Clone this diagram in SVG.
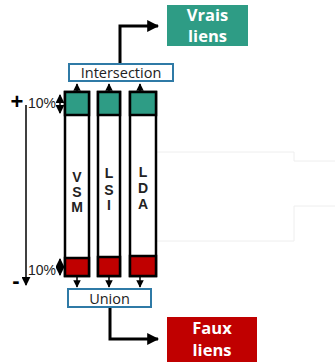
<svg xmlns="http://www.w3.org/2000/svg" width="335" height="362" viewBox="0 0 335 362">
<defs>
<style>
.col{fill:#fff;stroke:#000;stroke-width:2.5}
.top{fill:#2e9c85;stroke:#000;stroke-width:2.5}
.bot{fill:#c00000;stroke:#000;stroke-width:2.5}
.op{fill:#fff;stroke:#2f7aa6;stroke-width:2}
.lbl{font-family:"Open Sans","Liberation Sans",sans-serif;font-size:14.5px;fill:#222;text-anchor:middle}
.res{font-family:"Open Sans","Liberation Sans",sans-serif;font-size:16.5px;font-weight:bold;fill:#fff;text-anchor:middle}
.let{font-family:"Liberation Sans",Arial,sans-serif;font-size:14px;font-weight:bold;fill:#222;text-anchor:middle}
.pct{font-family:"Liberation Sans",Arial,sans-serif;font-size:14px;fill:#222}
.thick{fill:none;stroke:#000;stroke-width:3}
.thin{fill:none;stroke:#000;stroke-width:1.5}
.faint{fill:none;stroke:#eeeeee;stroke-width:1}
</style>
<marker id="ah" viewBox="0 0 10 10" refX="9" refY="5" markerWidth="4" markerHeight="4" orient="auto-start-reverse" markerUnits="strokeWidth"><path d="M0,0 L10,5 L0,10 z" fill="#000"/></marker>
<marker id="sh" viewBox="0 0 10 10" refX="9" refY="5" markerWidth="6" markerHeight="6" orient="auto-start-reverse" markerUnits="strokeWidth"><path d="M0,0 L10,5 L0,10 z" fill="#000"/></marker>
<marker id="ch" viewBox="0 0 10 10" refX="9" refY="5" markerWidth="5" markerHeight="5" orient="auto-start-reverse" markerUnits="strokeWidth"><path d="M0,0 L10,5 L0,10 z" fill="#000"/></marker>
</defs>
<g id="artifacts">
<path class="faint" d="M155,152 H294 V161 H335"/>
<path class="faint" d="M155,241 H294 V206 H335"/>
</g>
<g id="connectors">
<path class="thick" d="M120,64 V26 H158" marker-end="url(#ah)"/>
<path class="thick" d="M110,308 V339 H158" marker-end="url(#ah)"/>
<path class="thin" stroke-width="2" d="M77,91 V84" marker-end="url(#ch)"/>
<path class="thin" stroke-width="2" d="M109,91 V84" marker-end="url(#ch)"/>
<path class="thin" stroke-width="2" d="M140,91 V84" marker-end="url(#ch)"/>
<path class="thin" stroke-width="2" d="M77,277 V287" marker-end="url(#ch)"/>
<path class="thin" stroke-width="2" d="M109,277 V287" marker-end="url(#ch)"/>
<path class="thin" stroke-width="2" d="M140,277 V287" marker-end="url(#ch)"/>
</g>
<g id="vrais">
<rect x="167" y="5" width="81" height="41" fill="#2e9c85"/>
<text class="res" x="207.5" y="21">Vrais</text>
<text class="res" x="207.5" y="42">liens</text>
</g>
<g id="faux">
<rect x="167" y="317" width="90" height="45" fill="#c00000"/>
<text class="res" x="212" y="334">Faux</text>
<text class="res" x="212" y="356">liens</text>
</g>
<g id="intersection">
<rect class="op" x="69" y="64" width="104" height="17"/>
<text class="lbl" x="121" y="78">Intersection</text>
</g>
<g id="union">
<rect class="op" x="68" y="289" width="83" height="18"/>
<text class="lbl" x="109.5" y="303.5">Union</text>
</g>
<g id="vsm">
<rect class="col" x="65" y="92" width="24" height="184"/>
<rect class="top" x="65" y="92" width="24" height="23"/>
<rect class="bot" x="65" y="258" width="24" height="18"/>
<text class="let" x="77" y="182">V</text>
<text class="let" x="77" y="197">S</text>
<text class="let" x="77" y="212">M</text>
</g>
<g id="lsi">
<rect class="col" x="98" y="92" width="22" height="184"/>
<rect class="top" x="98" y="92" width="22" height="23"/>
<rect class="bot" x="98" y="257" width="22" height="19"/>
<text class="let" x="109" y="178">L</text>
<text class="let" x="109" y="195">S</text>
<text class="let" x="109" y="210">I</text>
</g>
<g id="lda">
<rect class="col" x="130" y="92" width="26" height="184"/>
<rect class="top" x="130" y="92" width="26" height="23"/>
<rect class="bot" x="130" y="256" width="26" height="20"/>
<text class="let" x="143" y="177">L</text>
<text class="let" x="143" y="193">D</text>
<text class="let" x="143" y="209">A</text>
</g>
<g id="axis">
<path class="thin" d="M26,105 V285" stroke-width="1.2" marker-end="url(#sh)"/>
<text x="17" y="109" font-family="Liberation Sans,Arial,sans-serif" font-size="22" font-weight="bold" text-anchor="middle" fill="#000">+</text>
<text x="16" y="288" font-family="Liberation Sans,Arial,sans-serif" font-size="22" font-weight="bold" text-anchor="middle" fill="#000">-</text>
<text class="pct" x="28" y="108">10%</text>
<text class="pct" x="28" y="275">10%</text>
<path class="thin" d="M60,95 V113" marker-start="url(#sh)" marker-end="url(#sh)"/>
<path class="thin" d="M60,259 V275" marker-start="url(#sh)" marker-end="url(#sh)"/>
</g>
</svg>
